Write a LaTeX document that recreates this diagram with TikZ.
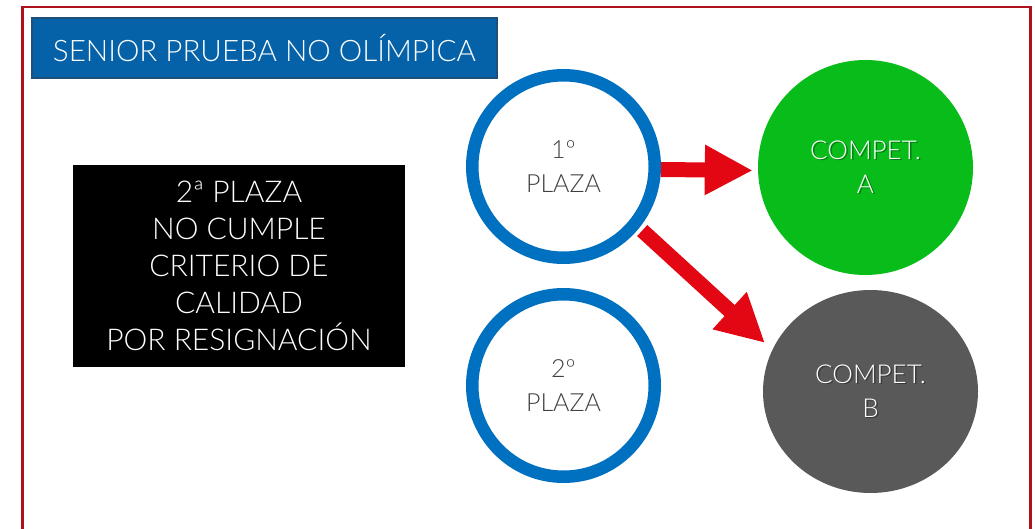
\documentclass[tikz,border=0pt]{standalone}
\usepackage{fontspec}
\setmainfont{Lato Light}
\usetikzlibrary{arrows.meta,shapes.geometric}
\definecolor{frameRed}{HTML}{B0121B}
\definecolor{titleBlue}{HTML}{0562A8}
\definecolor{titleEdge}{HTML}{1F4E79}
\definecolor{ringBlue}{HTML}{0070C0}
\definecolor{arrowRed}{HTML}{E30613}
\definecolor{compGreen}{HTML}{08BC1A}
\definecolor{compGray}{HTML}{595959}
\definecolor{ringText}{HTML}{404040}
\tikzset{
  frameline/.style={draw=frameRed, line width=2.5pt},
  titlebox/.style={fill=titleBlue, draw=titleEdge, line width=1.5pt, minimum width=465pt, minimum height=60pt, inner sep=0pt, text=white, font=\fontsize{29.6}{36}\selectfont},
  notebox/.style={fill=black, minimum width=332pt, minimum height=202pt, inner sep=0pt, text=white, align=center, font=\fontsize{30}{37}\selectfont},
  placering/.style={circle, draw=ringBlue, fill=white, line width=12.5pt, minimum size=182.5pt, inner sep=0pt, text=ringText, align=center, font=\fontsize{25}{34}\selectfont},
  compA/.style={circle, fill=compGreen, minimum size=215pt, inner sep=0pt},
  compB/.style={ellipse, fill=compGray, minimum width=215pt, minimum height=203pt, inner sep=0pt},
  shadowtext/.style={text=black, opacity=0.35, align=center, inner sep=0pt, font=\fontsize{26}{34}\selectfont},
  comptext/.style={inner sep=0pt, text=white, align=center, font=\fontsize{26}{34}\selectfont},
  blockarrow/.style={draw=arrowRed, line width=15pt, -{Triangle[width=47pt,length=48pt]}},
}
\begin{document}
\begin{tikzpicture}[x=1pt,y=-1pt]
\useasboundingbox (0,0) rectangle (1035,529);
\fill[white] (0,0) rectangle (1035,529);
\draw[frameline] (22.5,535) -- (22.5,7) -- (1030.5,7) -- (1030.5,535);

\node[titlebox] (title) at (264.5,48) {SENIOR PRUEBA NO OLÍMPICA};
\node[notebox] (note) at (239,266) {2ª PLAZA\\NO CUMPLE\\CRITERIO DE\\CALIDAD\\POR RESIGNACIÓN};

\node[compA] (ca) at (865.5,167.5) {};
\node[shadowtext] (cash) at (867,168.5) {COMPET.\\A};
\node[comptext] (catext) at (ca.center) {COMPET.\\A};

\node[compB] (cb) at (870.5,391.5) {};
\node[shadowtext] (cbsh) at (872,392.5) {COMPET.\\B};
\node[comptext] (cbtext) at (cb.center) {COMPET.\\B};

\coordinate (tipB) at (765,343);
\node[placering] (p1) at (563.5,166.5) {1º\\PLAZA};
\node[placering] (p2) at (563.5,385.5) {2º\\PLAZA};

\draw[blockarrow, shorten >=5pt] ([yshift=-3pt]p1.east) -- ([yshift=-3pt]ca.west);
\draw[blockarrow, shorten <=4pt] (p1.-39) -- (tipB);
\end{tikzpicture}
\end{document}
